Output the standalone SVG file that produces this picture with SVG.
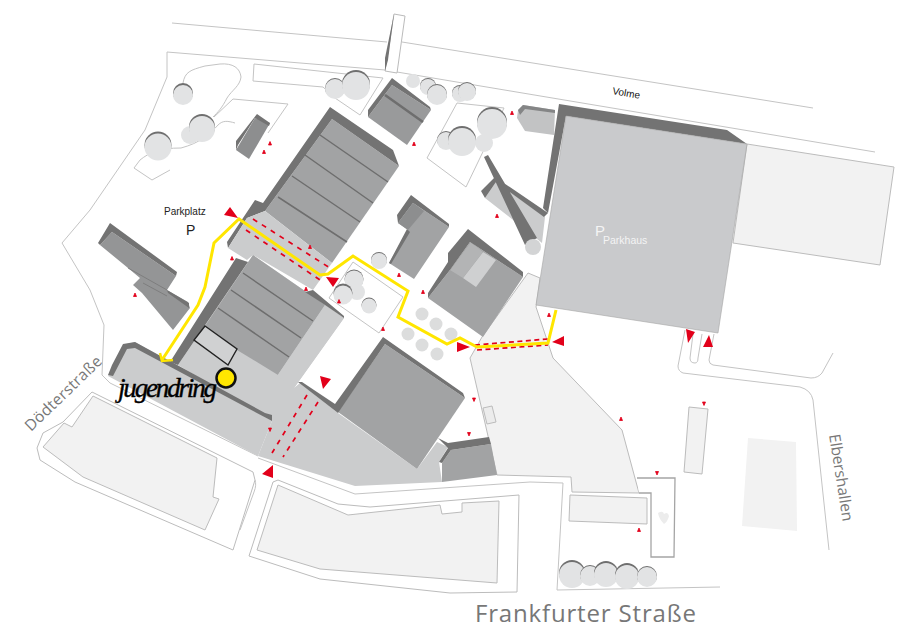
<svg xmlns="http://www.w3.org/2000/svg" width="910" height="644" viewBox="0 0 910 644">
<style>
.road{fill:none;stroke:#c4c4c4;stroke-width:1}
.lot{fill:#f2f2f2;stroke:#bcbcbc;stroke-width:1}
.plot{fill:#fff;stroke:#c4c4c4;stroke-width:1}
.dk{fill:#737373}
.md{fill:#a2a3a4}
.lt{fill:#cbcccd}
.ln{fill:none;stroke:#6e6e6e;stroke-width:1.5}
.ts{fill:#6f6f6f}
.t{fill:#e2e3e4}
.dot{fill:#dcdddd}
.route{fill:none;stroke:#ffe600;stroke-width:3;stroke-linejoin:miter}
.dash{fill:none;stroke:#e2001a;stroke-width:1.7;stroke-dasharray:5 5.5}
.red{fill:#e2001a}
.sm{stroke:#e2001a;stroke-width:.8}
.lab{font-family:"Liberation Sans",Arial,sans-serif}
.gr{font-family:"Open Sans","Liberation Sans",sans-serif;fill:#777}
</style>
<rect width="910" height="644" fill="#fff"/>
<g id="roads">
<path class="road" d="M172 23L387 42M402 42L813 108M397 72L875 152M385 70L167 52V77L145 130L90 210L62 243L90 290L104 325L102 375L110 383L258 456"/>
<path class="road" d="M254 64L383 78L360 115L335 98L323 87L253 81Z"/>
<path class="road" d="M183 83C185 72 190 70 205 66L220 64C233 63 240 68 241 77C240 86 232 90 227 98C222 108 218 112 213 117M214 117L233 99L288 104L268 133M235 123C228 121 223 120 218 125C210 134 200 143 181 148C160 148 150 152 140 160L134 168L152 180L170 170"/>
<path class="road" d="M255 480C256 483 256 487 254 492L240 530M258 458L355 494L530 482L563 483L557 590L720 587"/>
<path class="road" d="M685 330L678 366Q678 371 683 373L800 387Q811 390 813 400L829 550M693 334L690 358Q690 363 695 363Q698 363 698 358L702 334M714 334L709 360Q709 364 713 365L811 378Q818 378 822 373L833 353"/>
</g>
<g id="lots">
<path class="lot" d="M92 392L253 472L255 480L233 550L75 482L40 460L37 448L43 433L63 422Z" style="fill:#fff"/>
<path class="lot" d="M93 396L217 458L213 497L219 499L205 530L83 477L43 447L64 423L72 427Z"/>
<path class="lot" d="M278 480L338 504L370 507L519 495L517 592L450 593L320 579L249 556L273 482Z" style="fill:#fff"/>
<path class="lot" d="M278 485L348 515L440 505L442 514L462 512L462 503L499 501L497 583L320 569L257 550Z"/>
<path class="lot" d="M747 144L894 167L880 265L733 243Z"/>
<path class="lot" d="M689 407L708 409L702 474L684 472Z"/>
<path d="M748 438L796 442L797 531L742 526Z" fill="#f2f2f2"/>
<path class="lot" d="M470 358L482 337L528 273L540 278L536 307L553 358L622 430L639 493L572 492L571 477L497 475Z"/>
<path class="lot" d="M483 408L492 406L496 422L487 424Z" style="fill:#ececec"/>
<path class="lot" d="M570 495L647 498L647 524L569 521Z"/>
<path d="M637 478H675L674 557H651V493H639" fill="#fff" stroke="#a5a5a5" stroke-width="1.3"/>
<path d="M658 513Q663 510 664 514Q668 511 669 516Q668 521 664 524Q659 519 658 513Z" fill="#ececec"/>
</g>
<g id="plots">
<path class="plot" d="M457 103L504 108L466 187L427 158Z"/>
<path class="plot" d="M353 262L403 297L379 333L329 298Z"/>
</g>
<g id="jugendring-area">
<path class="lt" d="M108 376L123 345L135 342L272 421L258 456Z"/>
<path class="lt" d="M178 365L253 255L344 318L294 388L300 383L338 413L417 469L437 442L448 447L439 462L442 482L355 486L258 456L272 421Z"/>
<path class="dk" d="M108 375L112 365L123 344L135 342L265 413L272 415V421L135 348L127 349L113 376Z"/>
</g>
<g id="building-north">
<path class="md" d="M332 119L399 166L332 263L265 211Z"/>
<path class="dk" d="M330 107L393 150L399 166L332 119L265 211L247 218L228 248L227 242L255 200L263 203Z"/>
<path class="lt" d="M247 218L265 211L332 263L313 290L253 255L247 260L228 248Z"/>
<path class="ln" d="M278 197L347 242M292 176L360 222M305 155L373 203M320 135L388 182"/>
</g>
<g id="building-south">
<path class="md" d="M253 255L325 305L278 375L237 350L205 326Z"/>
<path class="lt" d="M325 305L344 318L294 388L277 376Z"/>
<path class="dk" d="M236 258L248 262L178 365L170 362ZM313 290L344 316V318L325 305L305 292Z"/>
<path class="ln" d="M243 273L313 321M231 290L301 338M218 308L289 357"/>
<path d="M205 326L237 349L228 365L194 340Z" fill="#d0d1d2" stroke="#222" stroke-width="1.4"/>
</g>
<g id="building-east">
<path class="md" d="M338 412L385 344L465 398L417 469Z"/>
<path class="dk" d="M298 382L302 382L335 404L383 337L463 393L465 398L385 344L338 413Z"/>
</g>
<g id="building-southeast">
<path class="md" d="M451 450L491 444L497 475L442 482V463Z"/>
<path class="dk" d="M438 438L448 443L489 437L491 444L451 450L442 463L439 462L448 448Z"/>
</g>
<g id="building-small">
<path d="M255 118L270 123L249 159L236 150Z" fill="#8d8e8f"/>
<path class="dk" d="M257 114L270 123L269 126L255 118L238 145L236 150V141Z"/>
</g>
<g id="building-west">
<path d="M112 232L176 276L167 290L188 302L190 308L173 330L142 293L133 285L140 278L128 268L100 245Z" fill="#949596"/>
<path class="dk" d="M110 223L177 272L176 276L112 232L100 245L98 243ZM167 290L189 303V308L168 293Z"/>
<path fill="none" stroke="#777" stroke-width=".8" d="M128 268L167 290M143 283L167 296"/>
</g>
<g id="building-3">
<path class="md" d="M413 203L449 227L414 279L389 263L408 230L398 223Z"/>
<path class="dk" d="M411 195L449 224V227L413 203L398 223L397 215ZM407 229L410 232L391 264L389 263Z"/>
<path d="M413 203L424 211L408 230L398 223Z" fill="#8d8e8f"/>
</g>
<g id="building-4">
<path class="md" d="M470 242L523 277L483 337L428 298L450 270Z"/>
<path d="M483 252L496 260L476 287L463 278Z" fill="#cfd0d1"/>
<path d="M471 242L483 252L463 278L450 270Z" fill="#b3b4b5"/>
<path class="dk" d="M468 229L523 272V277L470 242L450 270L428 298V293L448 262V253Z"/>
</g>
<g id="building-5">
<path d="M392 85L431 110L407 145L368 117Z" fill="#999a9b"/>
<path class="dk" d="M392 78L430 107L431 110L392 85L368 117V110Z"/>
<path class="ln" d="M385 95L423 122" style="stroke-width:2.500"/>
</g>
<g id="building-6">
<path d="M523 105L555 110L554 135L525 131L517 118L518 110Z" fill="#c2c3c4"/>
<path d="M523 105L555 110V113L525 109L520 115L518 110Z" fill="#848586"/>
</g>
<g id="building-7">
<path class="lt" d="M485 198L496 182L545 217L542 243L517 223Z"/>
<path class="dk" d="M481 191L495 177L548 213L544 217L496 182L485 198ZM484 157L488 155L537 238L525 245Z"/>
<circle cx="533" cy="247" r="8" fill="#d3d4d5"/>
</g>
<g id="building-parkhaus">
<path class="dk" d="M559 104L727 130L747 144L566 116L548 213L543 208Z"/>
<path d="M566 116L747 144L718 333L536 305Z" fill="#c9cacc" stroke="#a5a5a5" stroke-width=".6"/>
<text class="lab" x="595" y="236" font-size="15" fill="#f4f4f4">P</text>
<text class="lab" x="603" y="244" font-size="10.500" fill="#f4f4f4">Parkhaus</text>
</g>
<g id="tall-rect">
<path d="M394 14L405 16L397 73L385 71Z" fill="#fff" stroke="#bbb"/>
<path class="dk" d="M394 14L385 58V71L388 60Z"/>
</g>
<g id="trees">
<circle class="ts" cx="158" cy="145" r="13.500"/><circle class="t" cx="158" cy="147" r="13.500"/>
<circle class="t" cx="190" cy="135" r="9"/>
<circle class="ts" cx="202" cy="127" r="13"/><circle class="t" cx="202" cy="129" r="13"/>
<circle class="ts" cx="183" cy="93" r="10"/><circle class="t" cx="183" cy="95" r="10"/>
<circle class="ts" cx="335" cy="88" r="10"/><circle class="t" cx="335" cy="89" r="10"/>
<circle class="ts" cx="356" cy="84" r="14"/><circle class="t" cx="356" cy="86" r="14"/>
<circle class="t" cx="413" cy="81" r="7"/>
<circle class="ts" cx="428" cy="86" r="8"/><circle class="t" cx="428" cy="87" r="8"/>
<circle class="ts" cx="437" cy="94" r="10"/><circle class="t" cx="437" cy="95" r="10"/>
<circle class="ts" cx="460" cy="93" r="8"/><circle class="t" cx="460" cy="94" r="8"/>
<circle class="ts" cx="467" cy="91" r="9"/><circle class="t" cx="467" cy="92" r="9"/>
<circle class="ts" cx="446" cy="140" r="9"/><circle class="t" cx="446" cy="141" r="9"/>
<circle class="ts" cx="462" cy="140" r="14"/><circle class="t" cx="462" cy="142" r="14"/>
<circle class="t" cx="484" cy="143" r="9"/>
<circle class="ts" cx="492" cy="122" r="15"/><circle class="t" cx="492" cy="124" r="15"/>
<circle class="ts" cx="379" cy="260" r="8"/><circle class="t" cx="379" cy="261" r="8"/>
<circle class="ts" cx="354" cy="279" r="9.500"/><circle class="t" cx="354" cy="280" r="9.500"/>
<circle class="t" cx="357" cy="292" r="8"/>
<circle class="ts" cx="343" cy="293" r="9.500"/><circle class="t" cx="343" cy="295" r="9.500"/>
<circle class="ts" cx="369" cy="305" r="7.500"/><circle class="t" cx="369" cy="306" r="7.500"/>
<circle class="dot" cx="422" cy="314" r="6.500"/><circle class="dot" cx="436" cy="324" r="6.500"/><circle class="dot" cx="451" cy="334" r="6.500"/>
<circle class="dot" cx="408" cy="334" r="6.500"/><circle class="dot" cx="422" cy="345" r="6.500"/><circle class="dot" cx="437" cy="354" r="6.500"/>
<circle class="ts" cx="572" cy="573" r="13"/><circle class="t" cx="572" cy="575" r="13"/>
<circle class="ts" cx="590" cy="575" r="10"/><circle class="t" cx="590" cy="576" r="10"/>
<circle class="ts" cx="606" cy="573" r="12"/><circle class="t" cx="606" cy="575" r="12"/>
<circle class="ts" cx="627" cy="575" r="12"/><circle class="t" cx="627" cy="577" r="12"/>
<circle class="ts" cx="647" cy="576" r="10"/><circle class="t" cx="647" cy="577" r="10"/>
</g>
<g id="connectors">
<path class="dash" d="M253 219L330 268M246 230L320 280"/>
<path class="dash" d="M475 345L548 339M477 350L548 345" style="stroke-dasharray:5 3.500"/>
<path class="dash" d="M307 395L272 453M318 402L283 457"/>
<path class="route" d="M556 310L548 343L477 347L460 338L447 344L398 317L408 291L353 256L328 274L320 275L239 219L214 243L205 287L198 305L162 360"/>
<path class="route" d="M160 353L162 361L173 360" style="stroke-width:2.500"/>
</g>
<g id="markers" class="red">
<path d="M230 207L224 215L238 218ZM326 277L339 278L333 287ZM320 376L331 379L323 389ZM262 474L273 465V478ZM457 342L470 347L457 352ZM552 342L564 336V346ZM686 329L695 332L688 343ZM703 347H713L709 335Z"/>
<path class="sm" d="M268.500 145h3l-1.500-3.500ZM262.500 153.500h3l-1.500-3.500ZM230.500 260h3l-1.500-3.500ZM133.500 296.500h3l-1.500-3.500ZM308.500 248.500h3l-1.500-3.500ZM304.500 290.500h3l-1.500-3.500ZM337.500 303h3l-1.500-3.500ZM381.500 330.500h3l-1.500-3.500ZM397.500 276.500h3l-1.500-3.500ZM421.500 293.500h3l-1.500-3.500ZM495.500 217.500h3l-1.500-3.500ZM547.500 316.500h3l-1.500-3.500ZM412.500 145.500h3l-1.500-3.500ZM510.500 114.500h3l-1.500-3.500ZM619.500 420.500h3l-1.500-3.500ZM637.500 531.500h3l-1.500-3.500Z"/>
<path class="sm" d="M472.500 398h3l-1.500 3.500ZM467.500 432.500h3l-1.500 3.500ZM702.500 402h3l-1.500 3.500ZM655.500 471.500h3l-1.500 3.500ZM268.500 428h3l-1.500 3.500Z"/>
</g>
<g id="location">
<circle cx="226" cy="378" r="9.500" fill="#ffe600" stroke="#111" stroke-width="2.500"/>
</g>
<g id="labels">
<text class="lab" x="164" y="215" font-size="10" fill="#222">Parkplatz</text>
<text class="lab" x="186" y="235" font-size="14" fill="#222">P</text>
<text class="lab" x="612" y="94" font-size="10" fill="#111" transform="rotate(10 612 94)">Volme</text>
<text x="118" y="397" font-family="Liberation Serif,serif" font-style="italic" font-size="27" fill="#000" stroke="#000" stroke-width=".4" textLength="99" lengthAdjust="spacing">jugendring</text>
<text class="gr" x="31" y="432" font-size="15.500" textLength="100" transform="rotate(-44 31 432)">Dödterstraße</text>
<text class="gr" x="829" y="435" font-size="15.500" textLength="88" transform="rotate(81 829 435)">Elbershallen</text>
<text class="gr" x="475" y="622" font-size="24" textLength="221">Frankfurter Straße</text>
</g>
</svg>
